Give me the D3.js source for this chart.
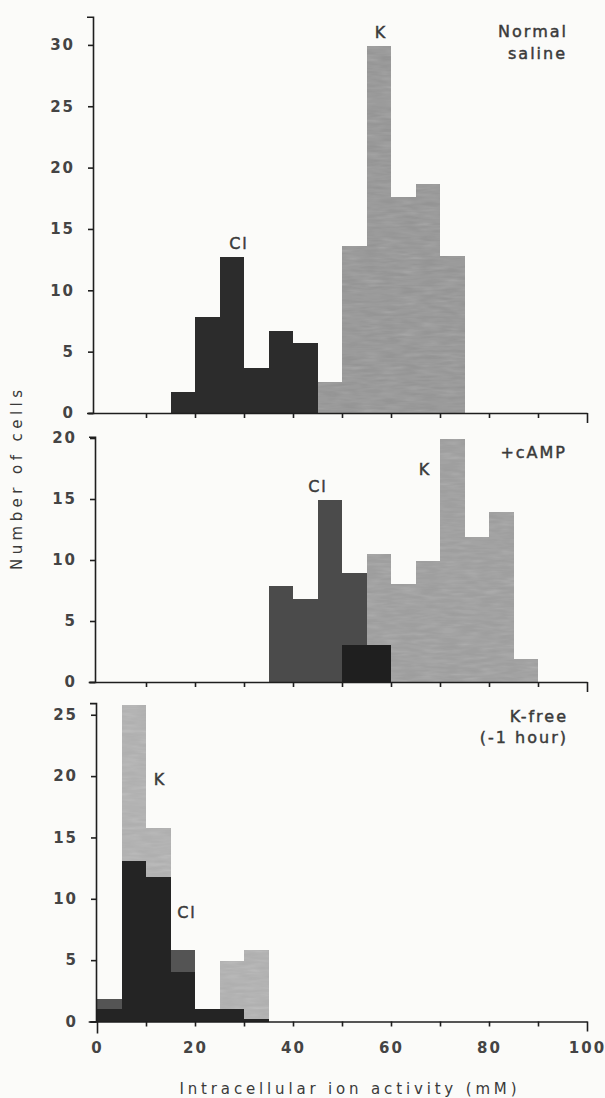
<!DOCTYPE html>
<html>
<head>
<meta charset="utf-8">
<script src="https://cdn.jsdelivr.net/npm/d3@7"></script>
<style>
  html, body { margin: 0; padding: 0; background: #fbfbf9; }
  svg { display: block; }
  svg text { font-family: "DejaVu Sans", "Noto Sans", sans-serif; fill: #3a3a3a; }
  .axis path, .axis line { stroke: #1e1e1e; stroke-width: 1.6; }
  .axis text { font-size: 15px; font-weight: bold; letter-spacing: 2px; fill: #444; }
  text.note { stroke: #3a3a3a; stroke-width: 0.45px; }
  rect.bar { shape-rendering: crispEdges; }
</style>
</head>
<body>
<svg id="chart" width="605" height="1098"></svg>
<script>
// ---- Histogram data: cell counts per 5 mM bin (bin lower edge, mM) ----
const binWidth = 5;

// Normal saline
const salineClBins = [15, 20, 25, 30, 35, 40];
const salineCl     = [1.7, 7.8, 12.7, 3.7, 6.7, 5.7];
const salineKBins  = [45, 50, 55, 60, 65, 70];
const salineK      = [2.5, 13.6, 29.9, 17.6, 18.7, 12.8];

// + cAMP
const campClBins = [35, 40, 45, 50, 55];
const campCl     = [7.9, 6.8, 14.9, 8.9, 3];
const campKBins  = [50, 55, 60, 65, 70, 75, 80, 85];
const campK      = [3, 10.5, 8, 9.9, 19.9, 11.9, 13.9, 1.9];

// K-free (~1 hour)
const kfreeBins = [0, 5, 10, 15, 20, 25, 30];
const kfreeCl   = [1.8, 13.1, 11.8, 5.8, 1, 1, 0.2];
const kfreeK    = [1, 25.8, 15.8, 4, 1, 4.9, 5.8];

// Axis ticks and labels
const xTickValues  = [0, 10, 20, 30, 40, 50, 60, 70, 80, 90, 100];
const xTickLabels  = [0, 20, 40, 60, 80, 100];
const salineYTicks = [0, 5, 10, 15, 20, 25, 30];
const campYTicks   = [0, 5, 10, 15, 20];
const kfreeYTicks  = [0, 5, 10, 15, 20, 25];
const xTitle = "Intracellular ion activity (mM)";
const yTitle = "Number of cells";

// ---- Layout ----
const svg = d3.select("#chart");

// light print grain for the grey K bars
const defs = svg.append("defs");
const grain = defs.append("filter").attr("id", "grain")
  .attr("x", 0).attr("y", 0).attr("width", 1).attr("height", 1);
grain.append("feTurbulence").attr("type", "fractalNoise")
  .attr("baseFrequency", "0.05 0.3").attr("numOctaves", 2).attr("seed", 7).attr("result", "noise");
grain.append("feColorMatrix").attr("in", "noise").attr("type", "saturate").attr("values", 0).attr("result", "gnoise");
grain.append("feComposite").attr("in", "SourceGraphic").attr("in2", "gnoise")
  .attr("operator", "arithmetic").attr("k1", 0).attr("k2", 1).attr("k3", 0.16).attr("k4", -0.04).attr("result", "mix");
grain.append("feComposite").attr("in", "mix").attr("in2", "SourceGraphic").attr("operator", "in");

const x = d3.scaleLinear().domain([0, 100]).range([97, 587]);

function toBins(starts, values) {
  return starts.map((b, i) => ({ b, v: values[i] }));
}

const panels = [
  {
    cl: toBins(salineClBins, salineCl), k: toBins(salineKBins, salineK),
    zero: 413, unit: 12.27, top: 32.3, yTicks: salineYTicks, axisX: 93,
    colors: { k: "#9a9a9a", cl: "#2c2c2c", both: "#1f1f1f" },
    labelled: false,
    notes: [
      { t: "K", x: 381, y: 38, anchor: "middle" },
      { t: "Cl", x: 239, y: 249, anchor: "middle" },
      { t: "Normal", x: 568, y: 37, anchor: "end" },
      { t: "saline", x: 567, y: 59, anchor: "end" }
    ]
  },
  {
    cl: toBins(campClBins, campCl), k: toBins(campKBins, campK),
    zero: 682, unit: 12.2, top: 20.1, yTicks: campYTicks, axisX: 95,
    colors: { k: "#a2a2a2", cl: "#4b4b4b", both: "#1f1f1f" },
    labelled: false,
    notes: [
      { t: "+cAMP", x: 567, y: 458, anchor: "end" },
      { t: "K", x: 425, y: 475, anchor: "middle" },
      { t: "Cl", x: 318, y: 492, anchor: "middle" }
    ]
  },
  {
    cl: toBins(kfreeBins, kfreeCl), k: toBins(kfreeBins, kfreeK),
    zero: 1021.5, unit: 12.27, top: 25.95, yTicks: kfreeYTicks, axisX: 96,
    colors: { k: "#b3b3b3", cl: "#545454", both: "#242424" },
    labelled: true,
    notes: [
      { t: "K-free", x: 568, y: 722, anchor: "end" },
      { t: "(-1 hour)", x: 568, y: 743, anchor: "end" },
      { t: "K", x: 160, y: 785, anchor: "middle" },
      { t: "Cl", x: 187, y: 918, anchor: "middle" }
    ]
  }
];

panels.forEach(p => {
  const y = d3.scaleLinear().domain([0, p.top]).range([p.zero, p.zero - p.top * p.unit]);
  const g = svg.append("g");

  // overlap of the two distributions in each bin
  const clByBin = new Map(p.cl.map(d => [d.b, d.v]));
  const both = p.k.filter(d => clByBin.has(d.b))
    .map(d => ({ b: d.b, v: Math.min(d.v, clByBin.get(d.b)) }))
    .filter(d => d.v > 0);

  const drawBars = (parent, data, color) => parent.append("g").selectAll("rect").data(data).join("rect")
    .attr("class", "bar")
    .attr("x", d => x(d.b))
    .attr("width", d => x(d.b + binWidth) - x(d.b))
    .attr("y", d => y(d.v))
    .attr("height", d => y(0) - y(d.v))
    .attr("fill", color);

  drawBars(g.append("g").attr("filter", "url(#grain)"), p.k, p.colors.k);
  drawBars(g, p.cl, p.colors.cl);
  drawBars(g, both, p.colors.both);

  // y axis
  const yAxis = d3.axisLeft(y).tickValues(p.yTicks).tickSize(5).tickSizeOuter(6).tickPadding(13);
  g.append("g").attr("class", "axis").attr("transform", `translate(${p.axisX},0)`).call(yAxis);

  // x axis (baseline runs a little left of the y axis)
  const xExt = x.copy().domain([-1.8, 100]).range([x(-1.8), x(100)]);
  const xAxis = d3.axisBottom(xExt)
    .tickValues(p.labelled ? xTickValues : xTickValues.slice(1))
    .tickSize(5).tickSizeOuter(0).tickPadding(16)
    .tickFormat(d => (p.labelled && xTickLabels.includes(d)) ? d : "");
  const ax = g.append("g").attr("class", "axis").attr("transform", `translate(0,${y(0)})`).call(xAxis);
  ax.selectAll(".tick line").attr("y2", d => d === 100 ? 10 : (d === 0 ? 12 : 5));

  // in-panel annotations
  g.selectAll("text.note").data(p.notes).join("text")
    .attr("class", "note")
    .attr("x", d => d.x).attr("y", d => d.y)
    .attr("text-anchor", d => d.anchor)
    .style("font-size", "16px").style("letter-spacing", "2px")
    .text(d => d.t);
});

// axis titles
svg.append("text")
  .attr("transform", "translate(22,480) rotate(-90)")
  .attr("text-anchor", "middle")
  .attr("textLength", 180).attr("lengthAdjust", "spacing")
  .style("font-size", "15px")
  .text(yTitle);

svg.append("text")
  .attr("x", 348).attr("y", 1094)
  .attr("text-anchor", "middle")
  .attr("textLength", 337).attr("lengthAdjust", "spacing")
  .style("font-size", "15px")
  .text(xTitle);
</script>
</body>
</html>
